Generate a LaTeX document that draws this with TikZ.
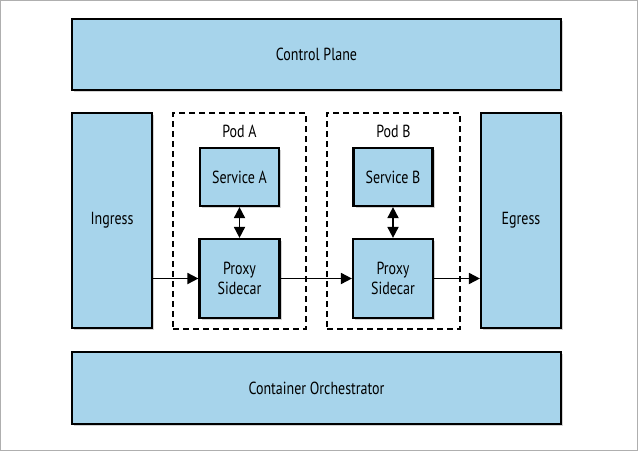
\documentclass[tikz,border=0pt]{standalone}
\usepackage{fontspec}
\setmainfont{PT Sans}[FakeStretch=0.8]
\usetikzlibrary{
    arrows.meta,
    shadows,
    positioning
}
\definecolor{meshblue}{RGB}{167,212,235}
\definecolor{framegray}{RGB}{175,175,175}

\begin{document}
\begin{tikzpicture}[x=1pt,y=-1pt,
    box/.style={draw=black,line width=2.2pt,fill=meshblue,inner sep=0pt,align=center,
        drop shadow={opacity=0.35,shadow xshift=2pt,shadow yshift=-2pt},
        font=\fontsize{17.5}{20}\selectfont},
    pod/.style={draw=black,line width=1.7pt,dash pattern=on 6pt off 4pt,inner sep=0pt},
    podlabel/.style={font=\fontsize{17.5}{20}\selectfont},
    flow/.style={-{Triangle[length=11pt,width=11pt]},line width=1.8pt},
    biflow/.style={{Triangle[length=11pt,width=11pt]}-{Triangle[length=11pt,width=11pt]},line width=1.8pt}]
    \useasboundingbox (0,0) rectangle (639,452);
    \draw[framegray,line width=1pt] (0.5,0.5) rectangle (637.5,450.5);
    % pods
    \node at (239.5,221) [pod,minimum width=133pt,minimum height=216pt] (podA) {};
    \node at (393.5,221) [pod,minimum width=133pt,minimum height=216pt] (podB) {};
    \node at (239.5,131) [podlabel] (podAlabel) {Pod A};
    \node at (393.5,131) [podlabel] (podBlabel) {Pod B};
    % outer boxes
    \node at (316.5,54.5) [box,minimum width=489pt,minimum height=71pt] (control) {Control Plane};
    \node at (316.5,388) [box,minimum width=489pt,minimum height=72pt] (orchestrator) {Container Orchestrator};
    \node at (112,220.5) [box,minimum width=80pt,minimum height=215pt] (ingress) {Ingress};
    \node at (521,220.5) [box,minimum width=80pt,minimum height=215pt] (egress) {Egress};
    % services and sidecars
    \node at (239.5,177) [box,minimum width=79pt,minimum height=58pt] (serviceA) {Service A};
    \node at (239.5,278.5) [box,minimum width=80pt,minimum height=79pt] (proxyA) {Proxy\\Sidecar};
    \node at (393,177) [box,minimum width=79pt,minimum height=58pt] (serviceB) {Service B};
    \node at (393,278.5) [box,minimum width=80pt,minimum height=79pt] (proxyB) {Proxy\\Sidecar};
    % traffic
    \draw[flow] (ingress.east |- proxyA) -- (proxyA.west);
    \draw[flow] (proxyA) -- (proxyB);
    \draw[flow] (proxyB.east) -- (proxyB.east -| egress.west);
    \draw[biflow] (serviceA) -- (proxyA);
    \draw[biflow] (serviceB) -- (proxyB);
\end{tikzpicture}
\end{document}
